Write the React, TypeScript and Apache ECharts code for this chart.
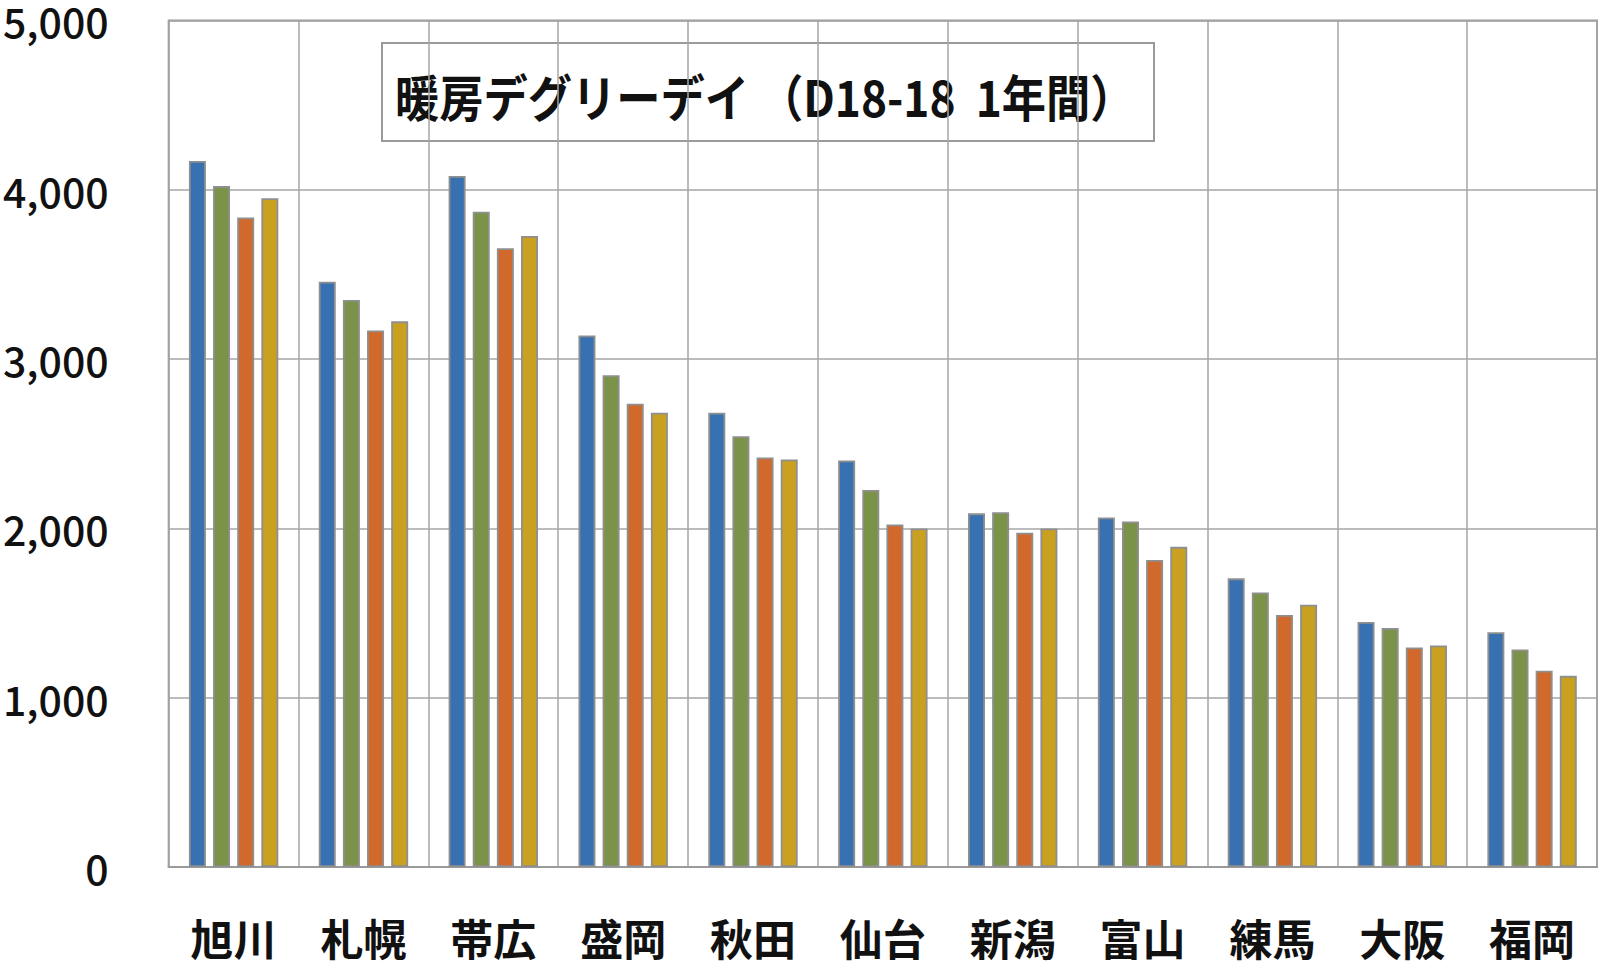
import React, { useEffect, useRef } from "react";
import * as echarts from "echarts";

const categories = ["旭川", "札幌", "帯広", "盛岡", "秋田", "仙台", "新潟", "富山", "練馬", "大阪", "福岡"];
const seriesA = [4170, 3457, 4082, 3139, 2683, 2401, 2089, 2065, 1705, 1447, 1387];
const seriesB = [4022, 3349, 3871, 2905, 2545, 2227, 2095, 2041, 1621, 1411, 1285];
const seriesC = [3836, 3169, 3655, 2737, 2419, 2023, 1975, 1813, 1489, 1297, 1159];
const seriesD = [3950, 3223, 3727, 2683, 2407, 1999, 1999, 1891, 1549, 1309, 1129];
const seriesNames = ["系列1", "系列2", "系列3", "系列4"];
const colors = ["#3871b1", "#7b9349", "#d0692b", "#c9a01f"];
const titleText = "暖房デグリーデイ （D18-18  1年間）";

const FONT = '"Noto Sans CJK JP", "Noto Sans", sans-serif';

export default function App() {
  const ref = useRef<HTMLDivElement>(null);
  useEffect(() => {
    document.body.style.margin = "0";
    if (!ref.current) return;
    const chart = echarts.init(ref.current, null, { renderer: "svg" });
    const data = [seriesA, seriesB, seriesC, seriesD];
    chart.setOption({
      animation: false,
      backgroundColor: "#ffffff",
      grid: {
        left: 167,
        right: 3,
        top: 17,
        bottom: 98,
        show: true,
        borderColor: "#9a9a9a",
        borderWidth: 2,
        backgroundColor: "#ffffff",
      },
      xAxis: {
        type: "category",
        data: categories,
        axisLine: { show: true, lineStyle: { color: "#9a9a9a", width: 2 } },
        axisTick: { show: false },
        splitLine: { show: true, interval: 0, lineStyle: { color: "#a6a6a6", width: 1.5 } },
        axisLabel: {
          interval: 0,
          margin: 48,
          fontSize: 43,
          lineHeight: 43,
          fontWeight: "bold",
          color: "#111",
          fontFamily: FONT,
        },
      },
      yAxis: {
        type: "value",
        min: 0,
        max: 5000,
        interval: 1000,
        axisLine: { show: false },
        axisTick: { show: false },
        splitLine: { show: true, lineStyle: { color: "#a6a6a6", width: 1.5 } },
        axisLabel: {
          margin: 60,
          fontSize: 41,
          lineHeight: 34,
          fontWeight: 500,
          color: "#111",
          fontFamily: FONT,
          formatter: (v: number) => v.toLocaleString("en-US"),
        },
      },
      series: data.map((d, i) => ({
        type: "bar",
        name: seriesNames[i],
        data: d,
        barWidth: 17,
        barGap: "42%",
        itemStyle: { color: colors[i], borderColor: "#8f8f8f", borderWidth: 1.8 },
      })),
      graphic: [
        {
          type: "group",
          z: 100,
          children: [
            {
              type: "rect",
              shape: { x: 382, y: 43, width: 772, height: 98 },
              style: { fill: "#ffffff", stroke: "#9a9a9a", lineWidth: 2 },
            },
            {
              type: "text",
              x: 395,
              y: 95,
              scaleX: 0.885,
              style: {
                text: titleText,
                fontSize: 50,
                fontWeight: "bold",
                fontFamily: FONT,
                fill: "#111",
                verticalAlign: "middle",
                align: "left",
              },
            },
          ],
        },
      ],
    });
    return () => chart.dispose();
  }, []);
  return <div ref={ref} style={{ width: 1600, height: 965 }} />;
}
